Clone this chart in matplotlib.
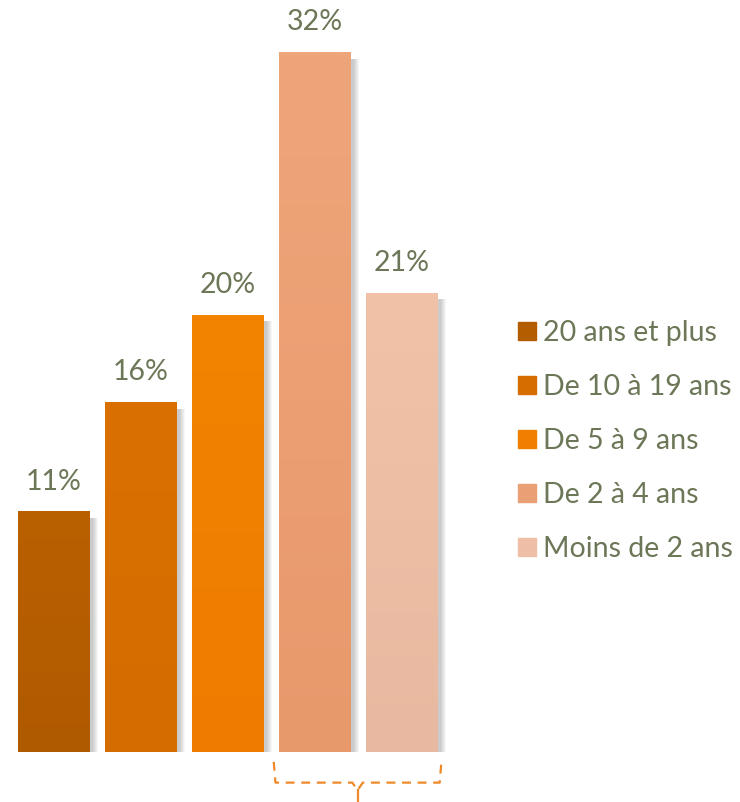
import numpy as np
import matplotlib.pyplot as plt
from matplotlib.lines import Line2D

categories = ["20 ans et plus", "De 10 à 19 ans", "De 5 à 9 ans", "De 2 à 4 ans", "Moins de 2 ans"]
values = [11, 16, 20, 32, 21]
labels = ["11%", "16%", "20%", "32%", "21%"]

# couleurs haut / bas de chaque barre (léger dégradé)
top_colors = ["#B96000", "#DA7000", "#F28400", "#EFA57A", "#F2C2A8"]
bot_colors = ["#B05A00", "#D46C00", "#EE7C00", "#E8996C", "#E8B8A0"]
leg_colors = ["#B35C00", "#D56D00", "#F07E00", "#E9A074", "#EEBFA6"]
text_color = "#6B7757"

plt.rcParams['font.family'] = ['Lato', 'DejaVu Sans']

fig = plt.figure(figsize=(7.4, 8.02), dpi=100)
ax = fig.add_axes([0, 50 / 802, 460 / 740, 752 / 802])
ax.set_xlim(-0.62, -0.62 + 460 / 87)
ax.set_ylim(0, 752 / 21.875)
ax.axis("off")

x = np.arange(len(values))
w = 72 / 87

def hex2rgb(h):
    return np.array([int(h[i:i + 2], 16) / 255 for i in (1, 3, 5)])

for i, v in enumerate(values):
    # ombre grise à droite
    for k in range(6):
        ax.bar(x[i] + 0.03 + k * 0.012, v - 0.3, width=w, bottom=0.0,
               color="#000000", alpha=0.035, zorder=1)
    b = ax.bar(x[i], v, width=w, color=bot_colors[i], zorder=2)[0]
    c1, c2 = hex2rgb(top_colors[i]), hex2rgb(bot_colors[i])
    t = np.linspace(0, 1, 64)[:, None]
    img = (c1[None, :] * (1 - t) + c2[None, :] * t)[:, None, :]
    im = ax.imshow(img, extent=(x[i] - w / 2, x[i] + w / 2, 0, v),
                   aspect="auto", zorder=3, interpolation="bilinear")
    im.set_clip_path(b)
    ax.annotate(labels[i], (x[i], v), xytext=(0, 12), textcoords="offset points",
                ha="center", va="bottom", fontsize=20.5, color=text_color, zorder=4)

# accolade pointillée sous les deux dernières barres
orange = "#EE8A2A"
xl, xr = x[3] - w / 2 - 0.06, x[4] + w / 2 + 0.04
xm = (xl + xr) / 2
ax.plot([xl, xl + 0.02, xm - 0.06, xm, xm + 0.06, xr - 0.02, xr],
        [-0.45, -1.4, -1.4, -1.75, -1.4, -1.4, -0.45],
        ls=(0, (4, 3)), color=orange, lw=1.6, clip_on=False)
ax.plot([xm, xm], [-1.75, -2.25], color=orange, lw=1.6, clip_on=False)

handles = [Line2D([], [], marker="s", ls="none", markersize=13,
                  markerfacecolor=c, markeredgecolor=c) for c in leg_colors]
leg = fig.legend(handles, categories, loc="upper left",
                 bbox_to_anchor=(503 / 740, 1 - 306 / 802),
                 frameon=False, fontsize=20.5, handlelength=0.7,
                 handletextpad=0.2, labelspacing=0.98, borderpad=0)
for t in leg.get_texts():
    t.set_color(text_color)

plt.savefig("out.png", dpi=100)
